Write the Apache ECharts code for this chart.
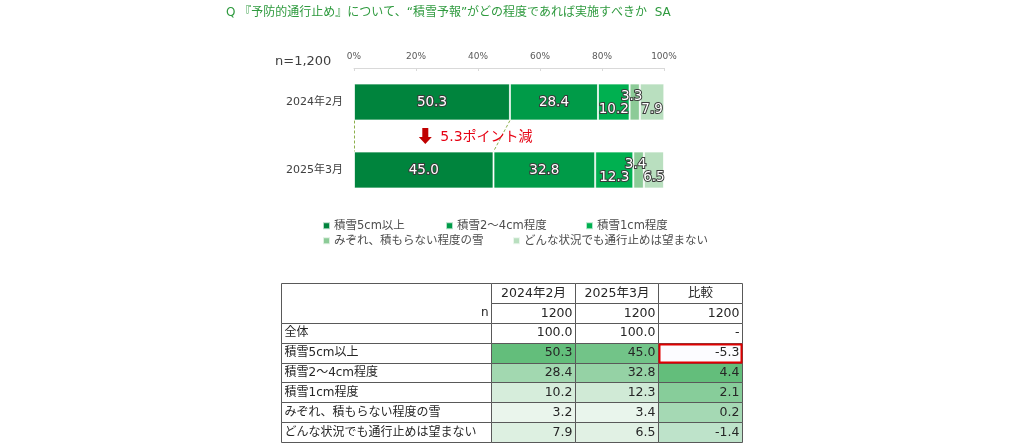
<!DOCTYPE html>
<html lang="ja">
<head>
<meta charset="UTF-8">
<title>積雪予報</title>
<script src="https://cdn.jsdelivr.net/npm/echarts@6/dist/echarts.min.js"></script>
<style>
  html, body { margin: 0; padding: 0; background: #fff; }
  #main { width: 1024px; height: 445px; }
</style>
</head>
<body>
<div id="main"></div>
<script>
  // --- bar chart data ---
  var periods = ['2024年2月', '2025年3月'];
  var seriesNames = ['積雪5cm以上', '積雪2〜4cm程度', '積雪1cm程度', 'みぞれ、積もらない程度の雪', 'どんな状況でも通行止めは望まない'];
  var snow5 = [50.3, 45.0];
  var snow2to4 = [28.4, 32.8];
  var snow1 = [10.2, 12.3];
  var sleet = [3.3, 3.4];
  var never = [7.9, 6.5];
  var pctTicks = [0, 20, 40, 60, 80, 100];

  // --- table data ---
  var tableCols = ['2024年2月', '2025年3月', '比較'];
  var tableRows = ['n', '全体', '積雪5cm以上', '積雪2〜4cm程度', '積雪1cm程度', 'みぞれ、積もらない程度の雪', 'どんな状況でも通行止めは望まない'];
  var tableN = [1200, 1200, 1200];
  var col2024 = [100.0, 50.3, 28.4, 10.2, 3.2, 7.9];
  var col2025 = [100.0, 45.0, 32.8, 12.3, 3.4, 6.5];
  var colDiff = [null, -5.3, 4.4, 2.1, 0.2, -1.4];

  var colors = ['#00843D', '#009B48', '#00B050', '#8CCB97', '#B9DFBF'];
  var FONT = '"DejaVu Sans", "Noto Sans CJK JP", sans-serif';
  var BAR_W = 37;

  function hex(c) { return [1, 3, 5].map(function (i) { return parseInt(c.substr(i, 2), 16); }); }
  function mix(a, b, t) {
    var x = hex(a), y = hex(b);
    return 'rgb(' + x.map(function (v, i) { return Math.round(v + (y[i] - v) * t); }).join(',') + ')';
  }

  // cells for the numeric part of the table
  var rowKeys = ['head'].concat(tableRows);
  var pctVals = col2024.slice(1).concat(col2025.slice(1));
  var pMin = Math.min.apply(null, pctVals), pMax = Math.max.apply(null, pctVals);
  var dVals = colDiff.slice(1);
  var dMin = Math.min.apply(null, dVals), dMax = Math.max.apply(null, dVals);
  var valueCells = [];
  tableCols.forEach(function (name, c) {
    valueCells.push({ c: c, r: 0, text: name, align: 'center', fill: '#fff' });
    valueCells.push({ c: c, r: 1, text: String(tableN[c]), align: 'right', fill: '#fff' });
  });
  [col2024, col2025].forEach(function (col, c) {
    col.forEach(function (v, i) {
      var fill = i === 0 ? '#fff' : mix('#EAF5EC', '#63BE7B', (v - pMin) / (pMax - pMin));
      valueCells.push({ c: c, r: i + 2, text: v.toFixed(1), align: 'right', fill: fill });
    });
  });
  colDiff.forEach(function (v, i) {
    if (v === null) {
      valueCells.push({ c: 2, r: i + 2, text: '-', align: 'right', fill: '#fff' });
    } else {
      valueCells.push({ c: 2, r: i + 2, text: v.toFixed(1), align: 'right',
        fill: mix('#FCFCFF', '#63BE7B', (v - dMin) / (dMax - dMin)), mark: v === dMin });
    }
  });
  var labelCells = tableRows.map(function (name, i) {
    return { c: 0, r: i + 1, text: name, align: i === 0 ? 'right' : 'left', fill: '#fff', merge: i === 0, size: 12 };
  });

  function cellRenderer(cells) {
    return function (params, api) {
      var cell = cells[params.dataIndex];
      var p = api.coord([api.value(0), api.value(1)]);
      var s = api.size([1, 1]);
      var x0 = Math.round(p[0] - s[0] / 2) + 0.5;
      var x1 = Math.round(p[0] + s[0] / 2) + 0.5;
      var y0 = Math.round(p[1] - s[1] / 2 - (cell.merge ? s[1] : 0)) + 0.5;
      var y1 = Math.round(p[1] + s[1] / 2) + 0.5;
      var tx = cell.align === 'right' ? x1 - 3 : (cell.align === 'left' ? x0 + 3 : (x0 + x1) / 2);
      var children = [{
        type: 'rect',
        shape: { x: x0, y: y0, width: x1 - x0, height: y1 - y0 },
        style: { fill: cell.fill, stroke: '#595959', lineWidth: 1 }
      }, {
        type: 'text',
        z2: 5,
        style: { text: cell.text, x: tx, y: p[1] + 0.5, align: cell.align, verticalAlign: 'middle',
          font: (cell.size || 12.5) + 'px ' + FONT, fill: '#262626' }
      }];
      if (cell.mark) {
        children.push({
          type: 'rect', z2: 100,
          shape: { x: x0 + 1, y: y0 + 1, width: x1 - x0 - 2, height: y1 - y0 - 2 },
          style: { fill: 'none', stroke: '#E00000', lineWidth: 2 }
        });
      }
      return { type: 'group', children: children };
    };
  }

  var labelStyle = {
    show: true, position: 'inside', color: '#fff', fontFamily: FONT, fontSize: 13.5,
    textBorderColor: '#3a3a3a', textBorderWidth: 2,
    formatter: function (p) { return p.value.toFixed(1); }
  };
  var offsets = [[0, 0], [0, 0], [0, 7], [-3, -6], [0, 7]];
  var barData = [snow5, snow2to4, snow1, sleet, never];

  var legendPos = [[322, 220], [445, 220], [585, 220], [322, 235], [512, 235]];

  var chart = echarts.init(document.getElementById('main'));
  var option = {
    animation: false,
    textStyle: { fontFamily: FONT },
    title: [{
      text: 'Q 『予防的通行止め』について、“積雪予報”がどの程度であれば実施すべきか  SA',
      left: 226, top: 7, padding: 0,
      textStyle: { fontSize: 12, fontWeight: 'normal', color: '#2E9A3E', fontFamily: FONT }
    }, {
      text: 'n=' + tableN[0].toLocaleString('en-US'),
      left: 275, top: 55, padding: 0,
      textStyle: { fontSize: 13, fontWeight: 'normal', color: '#404040', fontFamily: FONT }
    }],
    legend: seriesNames.map(function (name, i) {
      return {
        data: [name], left: legendPos[i][0], top: legendPos[i][1], padding: 0,
        icon: 'rect', itemWidth: 7, itemHeight: 7, selectedMode: false,
        textStyle: { fontSize: 11.5, color: '#4d4d4d', fontFamily: FONT, padding: [0, 0, 0, -1] }
      };
    }),
    grid: [
      { left: 354, width: 310, top: 68, height: 136 },
      { left: 281, width: 210, top: 283, height: 159 },
      { left: 491, width: 251, top: 283, height: 159 }
    ],
    xAxis: [{
      gridIndex: 0, type: 'value', position: 'top',
      min: pctTicks[0], max: pctTicks[pctTicks.length - 1], interval: pctTicks[1] - pctTicks[0],
      axisLine: { show: true, lineStyle: { color: '#d9d9d9' } },
      axisTick: { show: true, inside: true, length: 3, lineStyle: { color: '#d9d9d9' } },
      axisLabel: { formatter: '{value}%', fontSize: 9, color: '#595959', margin: 7 },
      splitLine: { show: false }
    }, {
      gridIndex: 1, type: 'category', data: ['label'], show: false
    }, {
      gridIndex: 2, type: 'category', data: tableCols, show: false
    }],
    yAxis: [{
      gridIndex: 0, type: 'category', data: periods, inverse: true,
      axisLine: { show: false }, axisTick: { show: false },
      axisLabel: { fontSize: 11, color: '#404040', margin: 11 }
    }, {
      gridIndex: 1, type: 'category', data: rowKeys, inverse: true, show: false
    }, {
      gridIndex: 2, type: 'category', data: rowKeys, inverse: true, show: false
    }],
    series: seriesNames.map(function (name, i) {
      return {
        name: name, type: 'bar', stack: 'total', barWidth: BAR_W,
        xAxisIndex: 0, yAxisIndex: 0,
        itemStyle: { color: colors[i], borderColor: 'rgba(255,255,255,0.7)', borderWidth: 1 },
        label: Object.assign({}, labelStyle, { offset: offsets[i] }),
        data: barData[i]
      };
    }).concat([{
      type: 'custom', xAxisIndex: 1, yAxisIndex: 1, silent: true,
      renderItem: cellRenderer(labelCells),
      data: labelCells.map(function (c) { return [c.c, c.r]; })
    }, {
      type: 'custom', xAxisIndex: 2, yAxisIndex: 2, silent: true,
      renderItem: cellRenderer(valueCells),
      data: valueCells.map(function (c) { return [c.c, c.r]; })
    }])
  };
  chart.setOption(option);

  // annotations between the two bars
  var arrowAt = 23;
  function px(v, cat) { return chart.convertToPixel({ gridIndex: 0 }, [v, cat]); }
  var a0 = px(snow5[0], periods[0]), a1 = px(snow5[1], periods[1]);
  var z0 = px(0, periods[0]);
  var yTop = a0[1] + BAR_W / 2, yBot = a1[1] - BAR_W / 2;
  var arrow = px(arrowAt, periods[0]);
  var ay = (a0[1] + a1[1]) / 2;
  var dash = { stroke: '#8DB04C', lineWidth: 1, lineDash: [3, 2] };
  chart.setOption({
    graphic: [{
      type: 'line', shape: { x1: z0[0] + 0.5, y1: yTop, x2: z0[0] + 0.5, y2: yBot }, style: dash
    }, {
      type: 'line', shape: { x1: a0[0], y1: yTop, x2: a1[0], y2: yBot }, style: dash
    }, {
      type: 'polygon', x: arrow[0], y: ay,
      shape: { points: [[-3, -8], [3, -8], [3, 1], [6.5, 1], [0, 8], [-6.5, 1], [-3, 1]] },
      style: { fill: '#C00000' }
    }, {
      type: 'text', x: arrow[0] + 15, y: ay + 1,
      style: { text: (snow5[0] - snow5[1]).toFixed(1) + 'ポイント減', font: '14px ' + FONT,
        fill: '#E60012', verticalAlign: 'middle' }
    }]
  });
</script>
</body>
</html>
